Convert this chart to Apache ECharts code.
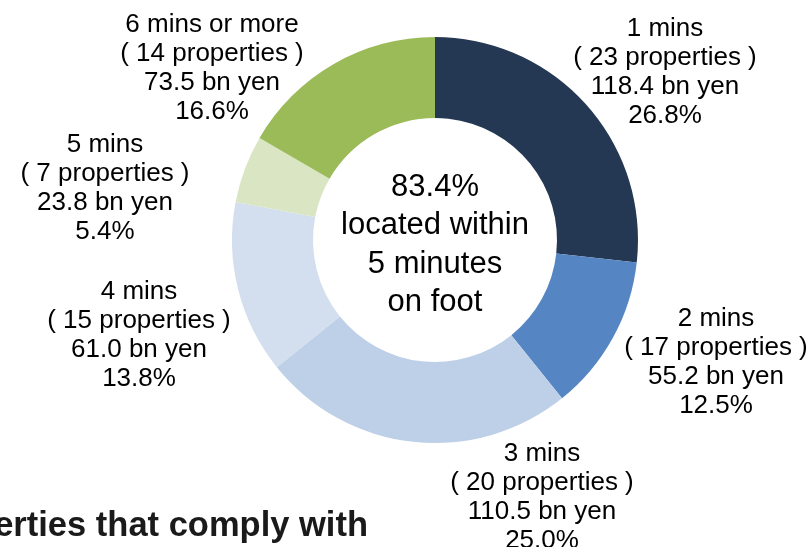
<!DOCTYPE html>
<html>
<head>
<meta charset="utf-8">
<script src="https://cdn.jsdelivr.net/npm/echarts@6/dist/echarts.min.js"></script>
<style>
html,body{margin:0;padding:0;background:#fff;}
#main{width:809px;height:547px;}
</style>
</head>
<body>
<div id="main"></div>
<script>
const categories = ['1 mins', '2 mins', '3 mins', '4 mins', '5 mins', '6 mins or more'];
const properties = [23, 17, 20, 15, 7, 14];
const amounts = [118.4, 55.2, 110.5, 61.0, 23.8, 73.5];
const percents = ['26.8', '12.5', '25.0', '13.8', '5.4', '16.6'];
const colors = ['#243853', '#5585C2', '#BDD0E7', '#D3DFEF', '#DAE6C3', '#9BBB59'];
const centerText = '83.4%\nlocated within\n5 minutes\non foot';
const footerText = 'Properties that comply with';

// label block centres (layout only)
const labelPos = [[665, 72], [716, 362], [542, 497], [139, 335], [105, 188], [212, 68]];

const chart = echarts.init(document.getElementById('main'), null, {renderer: 'canvas'});
const FONT = 'Arial, "Liberation Sans", sans-serif';

chart.setOption({
  animation: false,
  backgroundColor: '#ffffff',
  graphic: [
    {
      type: 'text',
      x: 435, y: 245,
      style: {
        text: centerText,
        font: '31px ' + FONT, fill: '#000',
        textAlign: 'center', textVerticalAlign: 'middle', lineHeight: 38.5
      }
    },
    {
      type: 'text', x: 368, y: 526,
      style: {
        text: footerText,
        font: 'bold 34.5px ' + FONT, fill: '#1a1a1a',
        textAlign: 'right', textVerticalAlign: 'middle'
      }
    }
  ],
  series: [{
    type: 'pie',
    center: [435, 240],
    radius: [122, 203],
    startAngle: 90,
    clockwise: true,
    avoidLabelOverlap: false,
    itemStyle: {borderWidth: 0},
    label: {
      show: true,
      position: 'outside',
      color: '#000',
      fontFamily: FONT,
      fontSize: 26,
      lineHeight: 29,
      align: 'center',
      formatter: p => {
        const i = p.dataIndex;
        return categories[i] + '\n( ' + properties[i] + ' properties )\n' + amounts[i].toFixed(1) + ' bn yen\n' + percents[i] + '%';
      }
    },
    labelLine: {show: false},
    labelLayout: params => ({
      x: labelPos[params.dataIndex][0],
      y: labelPos[params.dataIndex][1],
      align: 'center',
      verticalAlign: 'middle'
    }),
    emphasis: {disabled: true},
    data: categories.map((c, i) => ({name: c, value: amounts[i], itemStyle: {color: colors[i]}}))
  }]
});
</script>
</body>
</html>
